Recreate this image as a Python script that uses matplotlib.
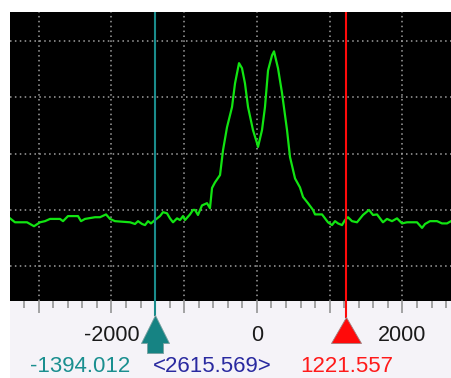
import numpy as np
import matplotlib
matplotlib.use("Agg")
from matplotlib import pyplot as plt
from matplotlib.path import Path
from matplotlib.ticker import MultipleLocator, FixedLocator

# spectrum trace: frequency offset and level
freq = [-3394, -3325, -3160, -3064, -2981, -2913, -2844, -2707, -2665, -2597,
        -2459, -2418, -2363, -2225, -2157, -2074, -2019, -1951, -1744, -1676,
        -1634, -1579, -1538, -1497, -1456, -1401, -1332, -1291, -1236, -1195,
        -1153, -1098, -1057, -1016, -988, -920, -878, -851, -810, -755,
        -686, -645, -617, -576, -507, -466, -411, -342, -301, -246,
        -205, -164, -122, -54, 1, 15, 70, 111, 153, 208,
        235, 290, 345, 414, 455, 524, 592, 634, 702, 771,
        799, 895, 977, 1032, 1074, 1115, 1170, 1211, 1252, 1307,
        1376, 1458, 1541, 1596, 1651, 1692, 1733, 1788, 1857, 1926,
        1995, 2063, 2201, 2270, 2311, 2379, 2476, 2544, 2613, 2668]
level = [-41.5, -42.2, -42.2, -42.9, -42.2, -42.0, -41.6, -41.6, -42.0, -41.1,
         -41.1, -42.0, -41.6, -41.3, -41.3, -40.8, -41.6, -42.0, -42.2, -42.5,
         -42.0, -42.5, -42.7, -42.0, -42.4, -41.8, -41.1, -40.4, -40.6, -41.5,
         -42.2, -41.5, -41.8, -41.1, -41.8, -40.8, -40.0, -40.0, -40.9, -39.2,
         -38.8, -39.7, -36.1, -35.1, -33.8, -29.4, -25.3, -21.7, -17.5, -13.9,
         -14.8, -17.5, -21.7, -25.8, -28.1, -28.8, -25.8, -21.7, -15.2, -12.5,
         -11.8, -14.8, -19.2, -25.8, -30.6, -34.4, -36.0, -37.7, -38.8, -40.0,
         -40.8, -40.8, -42.2, -42.7, -42.0, -42.4, -42.7, -41.8, -41.3, -42.0,
         -42.2, -40.9, -40.0, -40.9, -40.8, -41.5, -42.2, -41.6, -42.0, -41.5,
         -42.4, -42.2, -42.2, -43.2, -42.5, -42.0, -42.0, -42.4, -42.4, -42.0]

cursor_a = -1394.012
cursor_b = 1221.557
major_ticks = [-3000, -2000, -1000, 0, 1000, 2000]
labelled_ticks = [-2000, 0, 2000]
level_grid = [-50, -40, -30, -20, -10]
xlim = (-3394, 2668)

W, H = 451, 378
fig = plt.figure(figsize=(W / 100, H / 100), dpi=100, facecolor="white")

# plot area (black) and tick strip below it
ax = fig.add_axes([10 / W, (H - 301) / H, 441 / W, 289 / H], facecolor="black")
ax2 = fig.add_axes([10 / W, 0, 441 / W, (H - 301) / H], facecolor="#f5f3f8")

ax.set_xlim(*xlim)
ax.set_ylim(-56.2, -4.8)

dots = dict(color="#a0a0a0", linewidth=1.1, linestyle=(0, (1, 2.2)), zorder=1)
for x in major_ticks:
    ax.axvline(x, **dots)
for y in level_grid:
    ax.axhline(y, **dots)

ax.plot(freq, level, color="#12e412", linewidth=1.6, zorder=2)

ax.axvline(cursor_a, color="#1a8c8c", linewidth=1.5, zorder=3)
ax.axvline(cursor_b, color="#ff0a0a", linewidth=1.5, zorder=3)

ax.set_xticks([])
ax.set_yticks([])
for s in ax.spines.values():
    s.set_visible(False)

# tick strip: long ticks every 1000, short every 200
ax2.set_xlim(*xlim)
ax2.set_ylim(0, 1)
ax2.xaxis.set_major_locator(FixedLocator(major_ticks))
ax2.xaxis.set_minor_locator(MultipleLocator(200))
ax2.set_xticklabels([str(t) if t in labelled_ticks else "" for t in major_ticks])
ax2.tick_params(which="both", direction="in", top=True, bottom=False,
                labeltop=False, labelbottom=True, color="#8c8c8c", width=1.1)
ax2.tick_params(which="major", length=8.6, pad=-38, labelsize=15.5,
                labelcolor="#1a1a1a")
ax2.tick_params(which="minor", length=5)
ax2.set_yticks([])
for s in ax2.spines.values():
    s.set_visible(False)
for lab in ax2.get_xticklabels():
    lab.set_fontfamily("Liberation Sans")

ax2.axvline(cursor_a, ymin=0.818, ymax=1, color="#1a8c8c", linewidth=1.5)
ax2.axvline(cursor_b, ymin=0.79, ymax=1, color="#ff0a0a", linewidth=1.5)

# cursor markers
arrow = Path([(0, 19), (14, -9), (8, -9), (8, -19), (-8, -19), (-8, -9), (-14, -9), (0, 19)])
tri = Path([(0, 13), (15, -13), (-15, -13), (0, 13)])
bx = ax2.get_xaxis_transform()
ax2.plot([cursor_a], [0.571], marker=arrow, markersize=27.4, color="#168383",
         markeredgecolor="#7aa0a0", markeredgewidth=0.6, transform=bx, clip_on=False)
ax2.plot([cursor_b], [0.623], marker=tri, markersize=21.6, color="#ff0a0a",
         markeredgecolor="#a08080", markeredgewidth=0.6, transform=bx, clip_on=False)

# cursor readouts
txt = dict(fontsize=16, fontfamily="Liberation Sans", va="bottom", ha="left")
fig.text(30 / W, 0.5 / H, f"{cursor_a:.3f}", color="#1a8f8f", **txt)
fig.text(153 / W, 0.5 / H, f"<{cursor_b - cursor_a:.3f}>", color="#2a2aa0", **txt)
fig.text(300 / W, 0.5 / H, f"{cursor_b:.3f}", color="#ff1a1a", **txt)

fig.savefig("out.png", dpi=100, facecolor="white")
